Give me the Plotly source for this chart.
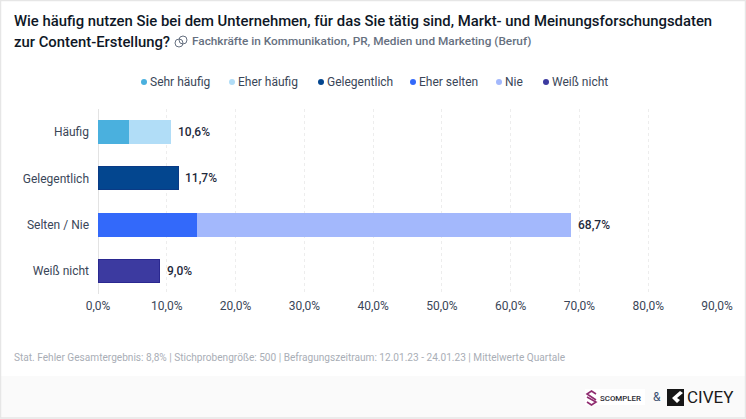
import plotly.graph_objects as go

categories = ["Häufig", "Gelegentlich", "Selten / Nie", "Weiß nicht"]
series_names = ["Sehr häufig", "Eher häufig", "Gelegentlich", "Eher selten", "Nie", "Weiß nicht"]
series_colors = ["#4AB0DE", "#B1DDF7", "#03468F", "#3369FA", "#A3B8FC", "#3C3AA0"]
line_colors = ["#4AB0DE", "#B1DDF7", "#0A3A85", "#3369FA", "#A3B8FC", "#2A2890"]
sehr_haeufig = [4.6, None, None, None]
eher_haeufig = [6.0, None, None, None]
gelegentlich = [None, 11.7, None, None]
eher_selten = [None, None, 14.4, None]
nie = [None, None, 54.3, None]
weiss_nicht = [None, None, None, 9.0]
totals = [10.6, 11.7, 68.7, 9.0]
total_labels = ["10,6%", "11,7%", "68,7%", "9,0%"]
tick_values = [0, 10, 20, 30, 40, 50, 60, 70, 80, 90]
tick_labels = ["0,0%", "10,0%", "20,0%", "30,0%", "40,0%", "50,0%", "60,0%", "70,0%", "80,0%", "90,0%"]
title_line1 = "Wie häufig nutzen Sie bei dem Unternehmen, für das Sie tätig sind, Markt- und Meinungsforschungsdaten"
title_line2 = "zur Content-Erstellung?"
subtitle = "Fachkräfte in Kommunikation, PR, Medien und Marketing (Beruf)"
footnote = "Stat. Fehler Gesamtergebnis: 8,8% | Stichprobengröße: 500 | Befragungszeitraum: 12.01.23 - 24.01.23 | Mittelwerte Quartale"
legend_x = [141, 229, 318, 410, 496, 543]

W, H = 746, 419
L, R, T, B = 98, 29, 109, 125
PW, PH = W - L - R, H - T - B
FONT = "Roboto, sans-serif"
px = lambda x: (x - L) / PW
py = lambda y: 1 - (y - T) / PH

fig = go.Figure()
for name, vals, col, lc in zip(series_names,
                               [sehr_haeufig, eher_haeufig, gelegentlich, eher_selten, nie, weiss_nicht],
                               series_colors, line_colors):
    fig.add_trace(go.Bar(y=categories, x=vals, name=name, orientation="h",
                         marker=dict(color=col, line=dict(color=lc, width=1)), showlegend=False))

ann = []
def text(x, y, s, size, color, weight=400, anchor="left"):
    ann.append(dict(xref="paper", yref="paper", x=px(x - 2), y=py(y), text=s, showarrow=False,
                    xanchor=anchor, yanchor="middle", align="left",
                    font=dict(family=FONT, size=size, color=color, weight=weight)))

text(14, 20.5, title_line1, 14.85, "#0E1726", 500)
text(14, 42, title_line2, 14.85, "#0E1726", 500)
text(192, 41, subtitle, 11.8, "#667080", 500)
text(14, 357, footnote, 10.1, "#A9AEB6")
text(653, 397, "&amp;", 12, "#3A5070")
text(600, 398, "SCOMPLER", 7.9, "#2B2B33", 500)
text(687, 397, "CIVEY", 17, "#1A1A1A")
for x0, name, col in zip(legend_x, series_names, series_colors):
    text(x0 + 9, 82, name, 12, "#3A4658")
for c, t, lab in zip(categories, totals, total_labels):
    ann.append(dict(xref="x", yref="y", x=t, y=c, text=lab, showarrow=False, xanchor="left", xshift=5,
                    font=dict(family=FONT, size=12, color="#1F2A3C", weight=500)))

shapes = [
    dict(type="rect", xref="paper", yref="paper", x0=px(0), x1=px(W), y0=py(376), y1=py(419),
         fillcolor="#FAFAFA", line_width=0, layer="below"),
    dict(type="rect", xref="paper", yref="paper", x0=px(0.5), x1=px(W - 0.5), y0=py(0.5), y1=py(H - 1),
         fillcolor="rgba(0,0,0,0)", line=dict(color="#E6E6E6", width=1.5)),
    dict(type="rect", xref="paper", yref="paper", x0=px(585), x1=px(645), y0=py(389), y1=py(405),
         fillcolor="#FFFFFF", line_width=0, layer="below"),
]
for x0, col in zip(legend_x, series_colors):
    shapes.append(dict(type="circle", xref="paper", yref="paper", x0=px(x0), x1=px(x0 + 6),
                       y0=py(79), y1=py(85), fillcolor=col, line_width=0))
# title icon: two overlapping rings
for x0, y0 in [(175, 39), (179, 36)]:
    shapes.append(dict(type="circle", xref="paper", yref="paper", x0=px(x0), x1=px(x0 + 8),
                       y0=py(y0), y1=py(y0 + 8), line=dict(color="#667080", width=1)))
# logos
for path in [
    f"M{px(596)},{py(394)} L{px(591.5)},{py(391)} L{px(587)},{py(394)} L{px(596)},{py(400)}",
    f"M{px(587)},{py(397)} L{px(596)},{py(402)} L{px(591.5)},{py(405)} L{px(587)},{py(402)}",
]:
    shapes.append(dict(type="path", xref="paper", yref="paper", path=path,
                       line=dict(color="#8E2A6E", width=1.6)))
shapes.append(dict(type="rect", xref="paper", yref="paper", x0=px(667), x1=px(684), y0=py(389), y1=py(406),
                   fillcolor="#161616", line_width=0))
shapes.append(dict(type="path", xref="paper", yref="paper",
                   path=f"M{px(680)},{py(391)} L{px(672)},{py(398)} L{px(677)},{py(403)} L{px(680)},{py(400)} L{px(677)},{py(398)} L{px(683)},{py(393)} Z",
                   fillcolor="#FFFFFF", line_width=0))

fig.update_layout(
    width=W, height=H, margin=dict(l=L, r=R, t=T, b=B, pad=0),
    paper_bgcolor="#FFFFFF", plot_bgcolor="#FFFFFF",
    barmode="stack", bargap=0.5, showlegend=False,
    font=dict(family=FONT, size=12, color="#3A4658"),
    annotations=ann, shapes=shapes,
    xaxis=dict(range=[0, 90], tickvals=tick_values, ticktext=tick_labels, showgrid=True,
               gridcolor="#EDEDED", griddash="dot", gridwidth=1, zeroline=True, zerolinecolor="#E3E3E3",
               zerolinewidth=1, showline=False, ticks="", ticklabelstandoff=3,
               tickfont=dict(family=FONT, size=12, color="#3A4658")),
    yaxis=dict(autorange="reversed", showgrid=False, zeroline=False, showline=False, ticks="",
               ticklabelstandoff=8, tickfont=dict(family=FONT, size=12, color="#3A4658")),
)
fig.write_html("out.html", post_script="document.body.style.margin='0';", config=dict(displayModeBar=False))
